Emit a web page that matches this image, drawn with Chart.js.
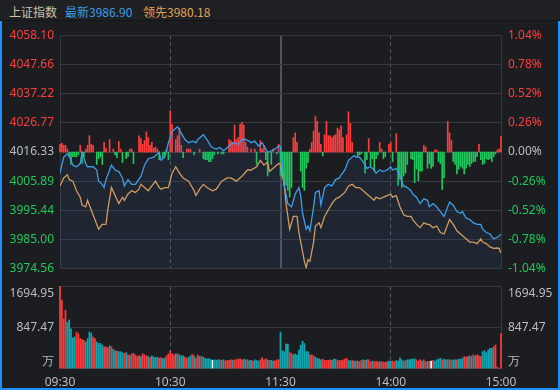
<!DOCTYPE html>
<html><head><meta charset="utf-8">
<script src="https://cdn.jsdelivr.net/npm/chart.js@4.4.1/dist/chart.umd.min.js"></script>
<style>
html,body{margin:0;padding:0;background:#1c1d21;}
#wrap{position:relative;width:560px;height:390px;background:#1c1d21;overflow:hidden;}
#hdr{position:absolute;left:0;top:0;width:560px;height:20px;background:#1f2024;border-bottom:1px solid #141518;font-family:"Noto Sans CJK SC","Noto Sans",sans-serif;font-size:12px;}
#hdr span{position:absolute;top:3px;line-height:18px;white-space:nowrap;}
#frame{position:absolute;left:0;top:21px;width:556px;height:367px;border-left:2px solid #1e8fff;border-right:2px solid #1e8fff;border-bottom:2px solid #1e8fff;pointer-events:none;}
canvas{position:absolute;left:0;}
#c1{top:21px;}
#c2{top:265px;}
</style></head>
<body>
<div id="wrap">
  <div id="hdr">
    <span id="hName" style="left:9px;color:#cfc3a6;"></span>
    <span id="hLatest" style="left:65px;color:#3c9ee8;"></span>
    <span id="hLead" style="left:143px;color:#e6a253;"></span>
  </div>
  <canvas id="c1" width="560" height="262"></canvas>
  <canvas id="c2" width="560" height="125"></canvas>
  <div id="frame"></div>
</div>
<script>
// ---------- data ----------
const indexName = '上证指数';
const latestLabel = '最新';
const leadLabel = '领先';
const latestClose = 3986.90;
const leadClose = 3980.18;
const baseValue = 4016.33;

const timeTicks = [0, 60, 120, 180, 240];
const timeLabels = ['09:30', '10:30', '11:30', '14:00', '15:00'];

const priceTicks = [4058.10, 4047.66, 4037.22, 4026.77, 4016.33, 4005.89, 3995.44, 3985.00, 3974.56];
const priceLabels = ['4058.10', '4047.66', '4037.22', '4026.77', '4016.33', '4005.89', '3995.44', '3985.00', '3974.56'];
const pctTicks = [1.04, 0.78, 0.52, 0.26, 0, -0.26, -0.52, -0.78, -1.04];
const pctLabels = ['1.04%', '0.78%', '0.52%', '0.26%', '0.00%', '-0.26%', '-0.52%', '-0.78%', '-1.04%'];
const volTicks = [0, 847.475, 1694.95];
const volLabels = ['万', '847.47', '1694.95'];

// 最新 (index) line: minute of session, value
const latestMin = [0,2,4,5,7,9,11,12,14,15,18,20,21,23,24,25,27,28,30,32,34,35,36,37,39,41,44,46,48,51,54,55,57,59,61,63,64,66,68,70,72,74,75,78,80,82,83,85,87,89,92,94,97,99,101,103,104,106,108,110,112,113,115,117,119,
  120,121,122,124,126,128,130,131,132,134,135,136,138,139,141,142,144,146,148,150,152,153,155,157,159,160,161,163,165,167,169,171,172,174,176,178,180,181,183,185,187,189,191,192,194,196,198,200,201,203,205,207,209,210,212,214,216,218,219,221,223,225,227,229,230,232,234,236,238,239,240];
const latestVal = [4008.77,4014.50,4015.64,4015.06,4011.62,4011.05,4012.20,4016.22,4012.20,4011.05,4011.05,4009.90,4005.91,4004.76,4003.61,4006.47,4009.90,4011.62,4009.90,4009.34,4007.05,4004.19,4005.33,4006.47,4004.76,4004.76,4007.62,4011.62,4013.92,4014.50,4016.22,4013.34,4014.50,4019.66,4023.65,4024.82,4025.37,4023.10,4020.80,4019.66,4020.22,4019.66,4020.80,4022.52,4020.80,4018.50,4017.95,4017.36,4017.95,4016.78,4018.50,4019.66,4019.08,4020.80,4020.80,4020.22,4019.66,4020.22,4018.50,4019.66,4017.36,4016.22,4016.78,4017.36,4018.50,
  4018.20,4011.62,4004.76,3997.87,3996.73,4001.31,4003.61,4000.74,3994.43,3988.72,3989.86,3988.14,3996.73,4001.89,4002.47,3997.32,4003.61,4004.76,4004.19,4006.47,4007.05,4008.18,4009.90,4013.34,4014.50,4015.06,4014.50,4014.50,4012.79,4010.49,4011.05,4009.90,4008.77,4009.90,4009.34,4009.90,4011.05,4009.90,4010.49,4007.62,4004.19,4003.61,4002.47,4001.31,4000.17,3997.87,3999.59,3999.04,3996.73,3997.87,3996.73,3995.01,3993.30,3995.01,3998.45,3997.32,3995.01,3994.43,3995.01,3992.71,3992.16,3991.00,3990.44,3990.44,3988.72,3987.55,3987.00,3985.28,3985.83,3986.42,3986.90];

// 领先 (leading) line
const leadMin = [0,2,4,5,7,9,11,12,14,15,17,19,21,23,25,26,28,30,32,34,35,37,39,41,43,44,46,48,50,52,54,55,57,59,61,63,65,67,70,73,74,76,78,80,83,85,88,91,93,96,99,102,104,107,109,111,113,114,116,119,
  120,122,123,125,126,127,129,130,132,133,134,135,136,138,139,141,142,144,146,148,150,152,153,155,157,159,161,163,165,167,169,171,172,174,176,178,180,181,183,185,187,189,191,192,194,196,198,200,201,203,205,207,209,210,212,214,216,218,220,221,223,225,227,229,230,232,234,236,238,239,240];
const leadVal = [4004.19,4007.05,4008.18,4006.47,4005.91,4002.47,4000.17,3997.32,3996.73,3999.04,3995.60,3992.16,3988.72,3990.44,3990.44,3995.60,4003.61,4000.74,3997.87,4000.17,3999.04,4001.31,4002.47,4001.89,4003.03,4004.76,4003.61,4002.47,4004.19,4005.91,4003.61,4003.03,4003.61,4003.61,4008.77,4011.05,4008.77,4007.05,4005.91,4002.47,4000.74,4003.03,4004.76,4003.61,4002.47,4003.03,4005.91,4007.05,4007.05,4005.91,4007.62,4009.90,4009.90,4011.05,4013.34,4011.62,4012.79,4009.34,4010.49,4012.20,
  4011.90,4004.76,3997.87,3988.72,3991.00,3993.30,3993.30,3987.55,3980.68,3977.24,3974.97,3977.82,3977.24,3984.11,3989.86,3991.00,3989.27,3993.30,3995.60,3997.87,3999.59,4000.17,4000.74,4001.89,4004.19,4004.76,4003.61,4003.61,4002.47,4001.31,4000.17,3999.04,4000.17,3999.59,4000.17,4000.74,4001.31,4000.17,4000.74,3996.73,3993.88,3993.30,3993.30,3992.16,3990.44,3989.27,3991.00,3990.44,3990.44,3989.27,3989.86,3987.55,3987.00,3988.72,3992.16,3990.44,3988.14,3987.00,3985.83,3985.28,3984.11,3984.11,3983.57,3985.28,3984.11,3983.57,3982.40,3981.85,3982.00,3981.85,3980.18];

// red / green strength bars in the price panel (minute, value)
const flowMin = [0,1,2,3,4,5,6,7,8,9,10,11,12,13,14,15,16,17,18,20,21,22,23,24,25,27,29,30,31,32,33,34,36,37,38,39,40,43,44,45,46,47,48,49,50,51,52,53,54,56,57,58,59,60,61,63,64,65,66,67,69,70,71,73,76,78,79,80,81,82,83,84,86,88,89,92,93,94,95,96,97,98,99,100,101,102,104,106,107,109,110,111,112,113,115,116,118,119,
  120,121,122,123,124,125,126,127,128,129,131,132,133,134,135,136,137,138,139,140,141,142,143,144,145,146,147,148,149,150,151,152,153,154,156,157,158,159,162,163,164,166,167,168,169,170,171,172,173,174,175,176,177,179,180,181,183,184,185,186,187,188,189,191,192,193,194,195,196,197,198,199,200,201,202,203,204,205,206,207,208,209,211,212,213,214,215,216,217,218,219,220,221,222,223,224,225,226,227,228,229,230,231,232,233,234,235,236,237,238,239,240];
const flowVal = [8,9,7,7,3,-5,-13,-5,-5,-5,-3,7,-12,-5,3,7,17,8,7,-13,-7,-5,-13,10,4,13,3,-3,-6,11,3,-11,-7,-5,3,3,-12,17,14,8,12,21,15,7,10,4,5,3,-8,-6,-4,3,-8,43,29,13,17,25,7,-6,3,3,3,-3,3,-7,-8,-8,-10,-10,-7,-3,-2,-2,-2,13,12,10,28,13,15,29,31,28,10,5,3,3,-13,12,3,7,-8,-25,-13,3,-2,8,
  -25,-27,-35,-35,-40,-47,-37,15,20,10,-20,-37,-40,-17,-11,3,10,22,37,32,20,8,-4,18,32,17,17,15,17,18,25,23,27,15,18,42,30,10,-5,-3,-2,-22,-8,14,-15,-7,-20,-7,-3,10,3,-7,-5,8,10,-10,19,-35,-28,-37,-25,-22,-13,-7,-8,-32,-18,-30,-20,-20,7,5,-17,-12,-17,-15,2,2,-10,-12,-39,-27,32,20,12,-10,-13,-23,-18,-15,-17,-23,-17,-13,-15,-12,-10,-10,-5,8,-8,-13,-12,-7,-8,-7,-10,-5,-2,2,3,16];

// volume per minute (万) and direction (1 up/red, -1 down/teal, 0 flat/white)
const volume = [1694.95,1413,1022,1204,955,1002,821,632,652,753,720,619,599,585,551,619,753,733,652,619,551,518,518,484,450,450,430,470,450,397,363,363,350,350,330,316,330,283,269,303,316,283,249,262,249,303,283,262,249,229,262,236,229,236,215,229,209,215,262,303,
  363,303,283,303,303,283,262,262,236,215,236,262,296,262,215,283,249,249,236,209,202,202,195,168,182,175,182,182,168,182,161,168,168,182,168,182,182,195,202,182,195,182,182,161,168,155,182,168,155,182,229,182,202,182,168,168,155,161,182,182,
  753,370,350,505,505,330,316,283,303,283,383,484,565,518,350,350,283,283,262,236,209,202,182,195,168,168,168,182,168,195,195,168,168,168,182,195,215,168,161,168,155,155,155,141,168,182,168,182,182,141,155,141,148,141,141,141,135,128,141,155,
  155,155,141,168,155,222,182,155,168,182,182,195,195,202,182,155,182,155,182,141,148,150,155,168,155,182,195,215,182,195,182,182,182,168,182,182,182,195,195,215,249,236,249,262,249,283,262,283,262,249,350,370,330,383,417,417,450,484,34,0,720];
const volDir = [1,1,1,1,-1,-1,-1,-1,-1,1,1,1,1,1,-1,-1,-1,-1,1,1,-1,-1,-1,-1,1,1,1,-1,1,-1,-1,1,-1,-1,-1,1,-1,1,-1,1,1,1,1,1,-1,1,1,1,-1,1,-1,-1,-1,-1,1,1,-1,-1,1,1,
  1,1,1,-1,1,-1,-1,-1,1,1,-1,-1,1,-1,1,1,-1,1,-1,-1,-1,-1,-1,0,-1,-1,-1,1,-1,-1,1,1,1,1,-1,1,1,1,1,1,-1,-1,1,-1,-1,1,-1,-1,-1,1,1,1,1,-1,1,-1,-1,1,1,1,
  -1,-1,-1,-1,-1,1,1,-1,-1,-1,-1,-1,-1,-1,-1,-1,1,1,1,-1,-1,-1,-1,1,1,1,1,1,-1,-1,-1,1,1,1,1,1,1,-1,-1,1,-1,1,-1,1,1,-1,1,-1,1,1,-1,1,1,1,-1,1,1,1,1,-1,
  -1,1,1,-1,-1,-1,-1,-1,1,-1,-1,-1,-1,-1,1,1,1,-1,1,1,-1,1,0,1,-1,-1,-1,-1,1,-1,-1,1,-1,1,-1,-1,1,-1,-1,-1,1,1,-1,1,-1,1,-1,1,1,1,-1,-1,-1,-1,-1,-1,1,1,1,1,1];

// ---------- styling ----------
const RED = '#ff3d3d', GREEN = '#1ec85c', GRAY = '#b9bcc2';
const BLUE = '#3c9ee8', ORANGE = '#e2a055';
const GRID = '#37383d', DASH = '#55575e', MID = '#50535a';
const VRED = '#f83a3a', VTEAL = '#10a6b0', VWHITE = '#ffffff';
Chart.defaults.font.family = '"Noto Sans", "DejaVu Sans", sans-serif';
Chart.defaults.font.size = 12;

document.getElementById('hName').textContent = indexName;
document.getElementById('hLatest').textContent = latestLabel + latestClose.toFixed(2);
document.getElementById('hLead').textContent = leadLabel + leadClose.toFixed(2);

function setTicks(arr) { return s => { s.ticks = arr.map(v => ({ value: v })); }; }
function sideColor(v) { return v > baseValue + 1e-6 ? RED : (v < baseValue - 1e-6 ? GREEN : GRAY); }
function pctColor(v) { return v > 1e-9 ? RED : (v < -1e-9 ? GREEN : GRAY); }
const vGridColor = (ctx, mid) => { const i = ctx.index; if (i === 1 || i === 3) return DASH; if (i === 2) return mid; return GRID; };
const vGridDash = ctx => (ctx.index === 1 || ctx.index === 3) ? [4, 3] : [];

const xBase = (midColor, midWidth, showLabels) => ({
  type: 'linear', min: timeTicks[0], max: timeTicks[timeTicks.length - 1], offset: false,
  afterBuildTicks: setTicks(timeTicks),
  ticks: { display: showLabels, autoSkip: false, maxRotation: 0, padding: 7, color: GRAY,
           callback: v => timeLabels[timeTicks.indexOf(v)] },
  grid: { drawTicks: false, offset: false, color: ctx => vGridColor(ctx, midColor),
          lineWidth: ctx => ctx.index === 2 ? midWidth : 1 },
  border: { display: false, dash: vGridDash },
  afterFit: s => { s.height = showLabels ? 21 : 0; }
});

// ---------- price chart ----------
new Chart(document.getElementById('c1'), {
  type: 'line',
  data: { datasets: [
    { type: 'line', label: latestLabel, data: latestMin.map((m, i) => ({ x: m, y: latestVal[i] })),
      borderColor: BLUE, borderWidth: 1.3, pointRadius: 0, tension: 0,
      fill: 'start', backgroundColor: 'rgba(62,120,190,0.11)', yAxisID: 'y', order: 1 },
    { type: 'line', label: leadLabel, data: leadMin.map((m, i) => ({ x: m, y: leadVal[i] })),
      borderColor: ORANGE, borderWidth: 1.3, pointRadius: 0, tension: 0, fill: false, yAxisID: 'y', order: 2 },
    { type: 'bar', label: 'flow', data: flowMin.map((m, i) => ({ x: m, y: flowVal[i] })),
      backgroundColor: ctx => (ctx.raw && ctx.raw.y >= 0) ? RED : GREEN,
      barThickness: 1, borderWidth: 0, yAxisID: 'yF', order: 3, clip: false }
  ]},
  options: {
    responsive: false, animation: false, events: [],
    layout: { padding: { top: 10, bottom: 8, left: 0, right: 0 } },
    plugins: { legend: { display: false }, tooltip: { enabled: false } },
    scales: {
      x: xBase(MID, 2, false),
      y: { position: 'left', min: priceTicks[priceTicks.length - 1], max: priceTicks[0],
           afterBuildTicks: setTicks(priceTicks),
           ticks: { padding: 6, color: ctx => sideColor(ctx.tick.value),
                    callback: v => priceLabels[priceTicks.indexOf(v)] },
           grid: { drawTicks: false, color: GRID }, border: { display: false },
           afterFit: s => { s.width = 60; } },
      yP: { position: 'right', min: pctTicks[pctTicks.length - 1], max: pctTicks[0],
            afterBuildTicks: setTicks(pctTicks),
            ticks: { padding: 7, color: ctx => pctColor(ctx.tick.value),
                     callback: v => pctLabels[pctTicks.indexOf(v)] },
            grid: { drawTicks: false, drawOnChartArea: false }, border: { display: false },
            afterFit: s => { s.width = 59; } },
      yF: { display: false, min: -122, max: 122 }
    }
  }
});

// ---------- volume chart ----------
const volLabelFor = v => {
  const i = volTicks.indexOf(v);
  if (i === volTicks.length - 1) return ['', volLabels[i]];
  if (i === 0) return [volLabels[i], ''];
  return volLabels[i];
};
new Chart(document.getElementById('c2'), {
  type: 'bar',
  data: { datasets: [
    { label: 'volume', data: volume.map((v, i) => ({ x: i, y: v })),
      backgroundColor: ctx => { const d = volDir[ctx.dataIndex]; return d > 0 ? VRED : (d < 0 ? VTEAL : VWHITE); },
      barThickness: 1.1, borderWidth: 0, clip: false }
  ]},
  options: {
    responsive: false, animation: false, events: [],
    layout: { padding: { top: 20, bottom: 0, left: 0, right: 0 } },
    plugins: { legend: { display: false }, tooltip: { enabled: false } },
    scales: {
      x: xBase('rgba(0,0,0,0)', 1, true),
      y: { position: 'left', min: 0, max: volTicks[volTicks.length - 1],
           afterBuildTicks: setTicks(volTicks),
           ticks: { padding: 6, color: GRAY, callback: volLabelFor },
           grid: { drawTicks: false, color: GRID }, border: { display: false },
           afterFit: s => { s.width = 60; } },
      y2: { position: 'right', min: 0, max: volTicks[volTicks.length - 1],
            afterBuildTicks: setTicks(volTicks),
            ticks: { padding: 7, color: GRAY, callback: volLabelFor },
            grid: { drawTicks: false, drawOnChartArea: false }, border: { display: false },
            afterFit: s => { s.width = 59; } }
    }
  }
});
</script>
</body></html>
